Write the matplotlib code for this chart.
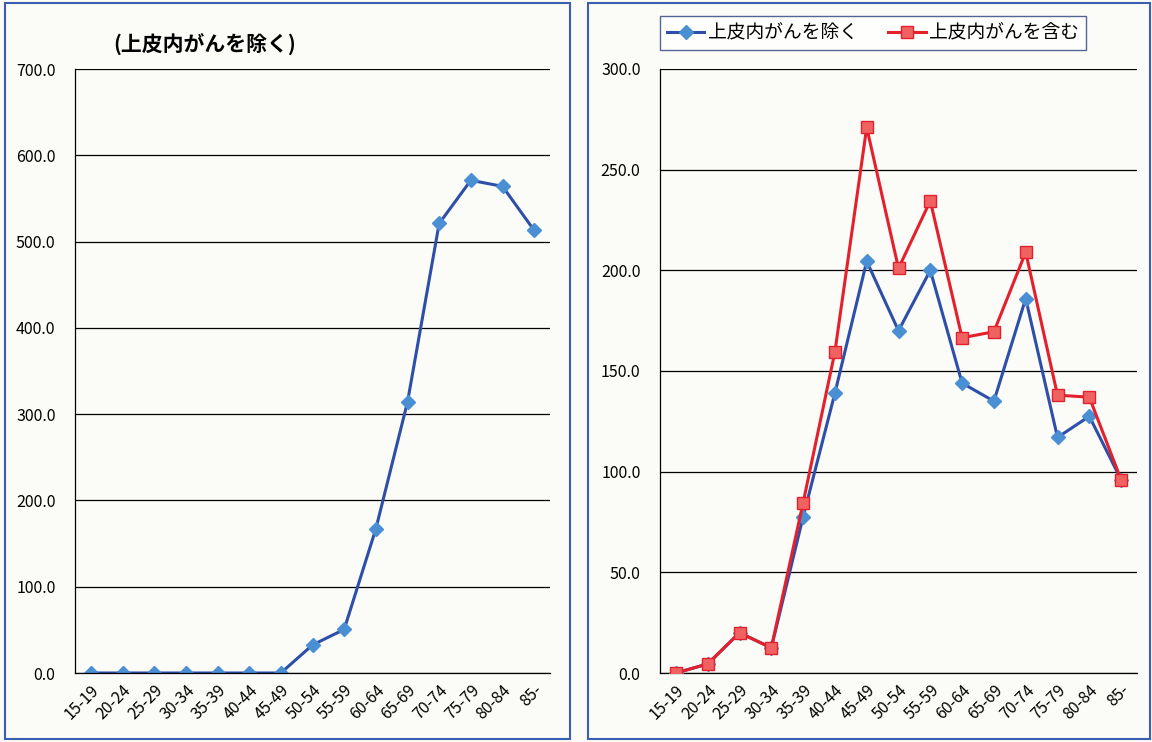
import matplotlib.pyplot as plt
from matplotlib.patches import Rectangle

plt.rcParams['font.family'] = ['Noto Sans CJK JP', 'DejaVu Sans']

# age groups
ages = ['15-19', '20-24', '25-29', '30-34', '35-39', '40-44', '45-49',
        '50-54', '55-59', '60-64', '65-69', '70-74', '75-79', '80-84', '85-']

# left panel: excluding carcinoma in situ
left_excl = [0, 0, 0, 0, 0, 0, 0, 32.5, 50.5, 167, 314, 521, 571, 564, 513]

# right panel
right_excl = [0, 4.5, 20, 12.5, 77.5, 139, 204.5, 170, 200, 144, 135, 186, 117, 127.5, 96]
right_incl = [0, 4.5, 20, 12.5, 84.5, 159.5, 271, 201, 234.5, 166.5, 169.5, 209, 138, 137, 96]

label_excl = '上皮内がんを除く'
label_incl = '上皮内がんを含む'

W, H = 1152, 742
fig = plt.figure(figsize=(W / 100, H / 100), dpi=100)
fig.patch.set_facecolor('#fbfbf8')

# panel borders
for x0, x1 in [(5, 570), (588, 1150)]:
    fig.patches.append(Rectangle((x0 / W, 3 / H), (x1 - x0) / W, (H - 6) / H,
                                 transform=fig.transFigure, fill=False,
                                 edgecolor='#3a5fb0', linewidth=1.5))

blue_line = '#2d4fa8'
blue_mark = '#4a8fd4'
red_line = '#e3202b'
red_mark = '#f06262'


def setup(ax, ymax, step):
    ax.set_facecolor('#fbfbf8')
    ax.set_xlim(-0.5, len(ages) - 0.5)
    ax.set_ylim(0, ymax)
    ax.set_yticks([i * step for i in range(int(ymax / step) + 1)])
    ax.set_yticklabels([f'{i * step:.1f}' for i in range(int(ymax / step) + 1)], fontsize=11.5)
    ax.set_xticks(range(len(ages)))
    ax.set_xticklabels(ages, rotation=45, ha='right', rotation_mode='anchor', fontsize=11.5)
    ax.grid(axis='y', color='black', linewidth=0.9)
    ax.set_axisbelow(True)
    for s in ['top', 'right']:
        ax.spines[s].set_visible(False)
    ax.spines['left'].set_linewidth(0.9)
    ax.spines['bottom'].set_linewidth(0.9)
    ax.tick_params(axis='y', length=0, pad=14)
    ax.tick_params(axis='x', length=0, pad=6)


# left chart
ax1 = fig.add_axes([75 / W, (H - 673) / H, (550 - 75) / W, (673 - 69) / H])
setup(ax1, 700, 100)
ax1.plot(range(len(ages)), left_excl, color=blue_line, linewidth=2.2,
         marker='D', markersize=7, markerfacecolor=blue_mark, markeredgecolor=blue_mark)
fig.text(113 / W, 1 - 45 / H, '(' + label_excl + ')', fontsize=15, fontweight='bold',
         va='center', ha='left')

# right chart
ax2 = fig.add_axes([660 / W, (H - 673) / H, (1137 - 660) / W, (673 - 69) / H])
setup(ax2, 300, 50)
ax2.plot(range(len(ages)), right_excl, color=blue_line, linewidth=2.2,
         marker='D', markersize=7, markerfacecolor=blue_mark, markeredgecolor=blue_mark,
         label=label_excl, zorder=3)
ax2.plot(range(len(ages)), right_incl, color=red_line, linewidth=2.2,
         marker='s', markersize=9, markerfacecolor=red_mark, markeredgecolor=red_line,
         label=label_incl, zorder=4)
leg = ax2.legend(loc='center', bbox_to_anchor=(873 / W, 1 - 33 / H),
                 bbox_transform=fig.transFigure, ncol=2, fontsize=13.5,
                 frameon=True, fancybox=False, edgecolor='#2a3f7a',
                 handlelength=2.0, handletextpad=0.2, columnspacing=1.6, borderpad=0.35)
leg.get_frame().set_linewidth(1.0)

fig.savefig('out.png', dpi=100, facecolor=fig.get_facecolor())
